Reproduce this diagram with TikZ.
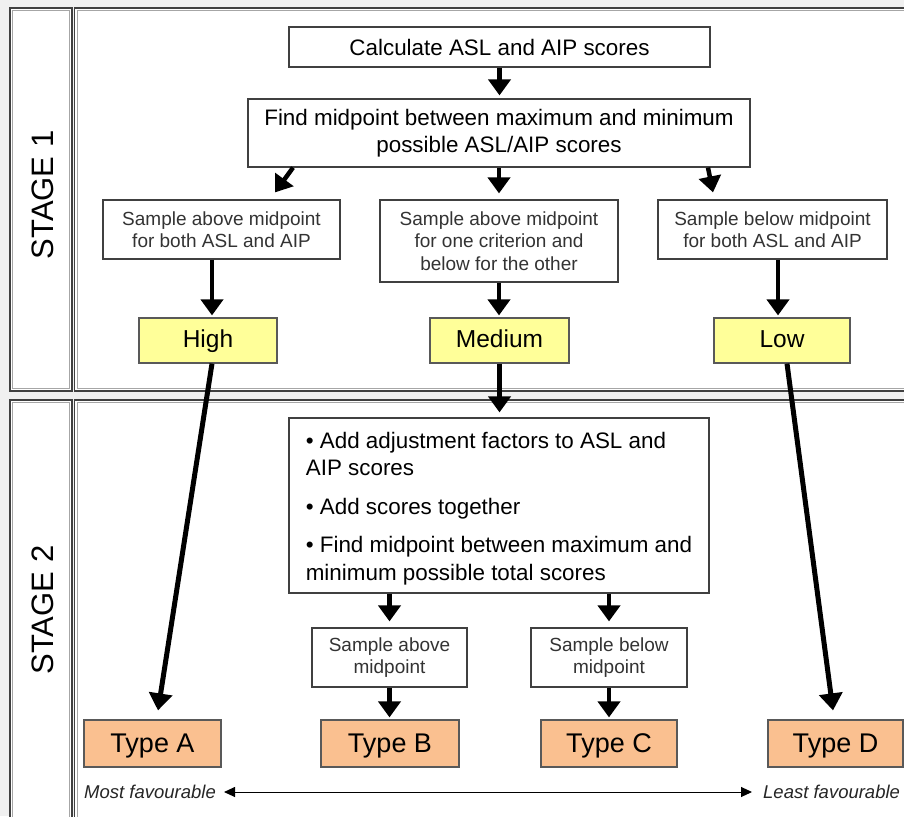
\documentclass[tikz,border=0pt]{standalone}
\usepackage{fontspec}
\setmainfont{Liberation Sans}
\usetikzlibrary{arrows.meta}
\definecolor{yel}{HTML}{FFFF99}
\definecolor{peach}{HTML}{FAC090}
\definecolor{bggray}{HTML}{F0F0F0}
\tikzset{
  cellframe/.style={draw=black!75, line width=1.5pt, fill=white},
  cellinner/.style={draw=black!35, line width=0.8pt},
  stagelabel/.style={rotate=90, anchor=base, font=\fontsize{31}{34}\selectfont},
  mainbox/.style={draw=black!75, line width=1.2pt, fill=white, align=center, inner sep=0pt,
    font=\fontsize{22.4}{27.5}\selectfont},
  textblock/.style={inner sep=0pt, align=left, font=\fontsize{22.4}{27.5}\selectfont},
  samplebox/.style={draw=black!75, line width=1.2pt, fill=white, align=center, inner sep=0pt,
    text=black!80, font=\fontsize{19}{22.5}\selectfont},
  levelbox/.style={draw=black!65, line width=1.2pt, fill=yel, inner sep=0pt,
    text height=17.6pt, text depth=3.2pt, font=\fontsize{24.5}{28}\selectfont},
  typebox/.style={draw=black!65, line width=1.2pt, fill=peach, inner sep=0pt,
    text height=19.4pt, text depth=1.2pt, font=\fontsize{27}{30}\selectfont},
  endlabel/.style={inner sep=0pt, text=black!85, font=\fontsize{18.5}{22}\selectfont\itshape},
  bigarrow/.style={line width=4.5pt, -{Triangle[width=22pt,length=16pt]}},
  longarrow/.style={line width=5pt, -{Triangle[width=23pt,length=17pt]}},
  thinarrow/.style={line width=1pt, {Triangle[width=10pt,length=11pt]}-{Triangle[width=10pt,length=11pt]}}
}
\begin{document}
\begin{tikzpicture}[x=1pt, y=-1pt]
\useasboundingbox (0,0) rectangle (904,816);
\clip (0,0) rectangle (904,816);
\fill[bggray] (0,0) rectangle (904,816);
% frame cells
\draw[cellframe] (10,8) rectangle (72,391);
\draw[cellinner] (12.5,10.5) rectangle (69.5,388.5);
\draw[cellframe] (74.5,8) rectangle (930,391);
\draw[cellinner] (77,10.5) rectangle (930,388.5);
\draw[cellframe] (10,400) rectangle (72,840);
\draw[cellinner] (12.5,402.5) rectangle (69.5,840);
\draw[cellframe] (74.5,400) rectangle (930,840);
\draw[cellinner] (77,402.5) rectangle (930,840);
\node[stagelabel] (st1) at (53,195) {STAGE 1};
\node[stagelabel] (st2) at (53,610) {STAGE 2};

% stage 1
\node[mainbox, minimum width=421pt, minimum height=40pt] (calc) at (499.5,47) {Calculate ASL and AIP scores};
\node[mainbox, minimum width=502pt, minimum height=68pt] (find) at (499,133) {Find midpoint between maximum and minimum\\possible ASL/AIP scores};
\node[samplebox, minimum width=237pt, minimum height=59pt] (s1a) at (221.5,229.5) {Sample above midpoint\\for both ASL and AIP};
\node[samplebox, minimum width=238pt, minimum height=82pt] (s1b) at (499,241) {Sample above midpoint\\for one criterion and\\below for the other};
\node[samplebox, minimum width=229pt, minimum height=59pt] (s1c) at (772.5,229.5) {Sample below midpoint\\for both ASL and AIP};
\node[levelbox, minimum width=138pt, minimum height=45pt] (high) at (208,340.5) {High};
\node[levelbox, minimum width=139pt, minimum height=45pt] (med) at (499.5,340.5) {Medium};
\node[levelbox, minimum width=136pt, minimum height=45pt] (low) at (782,340.5) {Low};

% stage 2
\node[mainbox, minimum width=420pt, minimum height=175pt] (s2box) at (499,505.5) {};
\node[textblock] (s2text) at (499,508.5)
  {\textbullet{} Add adjustment factors to ASL and\\AIP scores\\[11pt]\textbullet{} Add scores together\\[11pt]\textbullet{} Find midpoint between maximum and\\minimum possible total scores};
\node[samplebox, minimum width=155pt, minimum height=59pt] (s2a) at (389.5,657.5) {Sample above\\midpoint};
\node[samplebox, minimum width=156pt, minimum height=59pt] (s2b) at (609,657.5) {Sample below\\midpoint};
\node[typebox, minimum width=137pt, minimum height=47pt] (ta) at (152.5,743.5) {Type A};
\node[typebox, minimum width=138pt, minimum height=47pt] (tb) at (390,743.5) {Type B};
\node[typebox, minimum width=136pt, minimum height=47pt] (tc) at (609,743.5) {Type C};
\node[typebox, minimum width=135pt, minimum height=47pt] (td) at (835.5,743.5) {Type D};
\node[endlabel, anchor=west] (most) at (84,792) {Most favourable};
\node[endlabel, anchor=west] (least) at (763,792) {Least favourable};

% connectors
\draw[bigarrow, shorten >=3pt] (calc.south) -- (calc.south |- find.north);
\draw[bigarrow] ([xshift=-206pt]find.south) -- ([xshift=53.5pt,yshift=7pt]s1a.north);
\draw[bigarrow, shorten >=6pt] (find.south) -- (find.south |- s1b.north);
\draw[bigarrow] ([xshift=209pt]find.south) -- ([xshift=-59.5pt,yshift=7pt]s1c.north);
\draw[bigarrow, shorten >=2pt] ([xshift=-9.5pt]s1a.south) -- ([xshift=4pt]high.north);
\draw[bigarrow, shorten >=2pt] (s1b.south) -- (s1b.south |- med.north);
\draw[bigarrow, shorten >=2pt] ([xshift=5.5pt]s1c.south) -- ([xshift=-4pt]low.north);
\draw[bigarrow, shorten >=5pt] (med.south) -- (med.south |- s2box.north);
\draw[longarrow] ([xshift=4pt]high.south) -- ([xshift=5.5pt,yshift=9pt]ta.north);
\draw[longarrow] ([xshift=5pt]low.south) -- ([xshift=-2.5pt,yshift=9pt]td.north);
\draw[bigarrow, shorten >=6pt] (s2a.north |- s2box.south) -- (s2a.north);
\draw[bigarrow, shorten >=6pt] (s2b.north |- s2box.south) -- (s2b.north);
\draw[bigarrow, shorten >=2pt] (s2a.south) -- (s2a.south |- tb.north);
\draw[bigarrow, shorten >=2pt] (s2b.south) -- (s2b.south |- tc.north);
\draw[thinarrow] ([xshift=8pt]most.east) -- ([xshift=-11pt]least.west);
\end{tikzpicture}
\end{document}
